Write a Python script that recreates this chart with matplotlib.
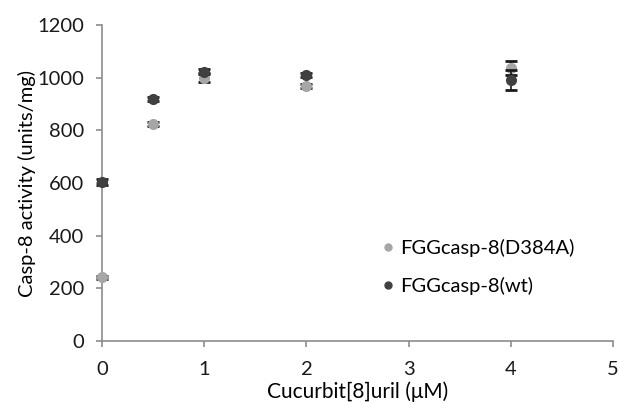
import matplotlib
matplotlib.use("Agg")
import matplotlib.pyplot as plt
from matplotlib.lines import Line2D

plt.rcParams['font.family'] = ['Lato', 'DejaVu Sans']

conc = [0, 0.5, 1, 2, 4]
d384a = [242, 824, 1000, 970, 1036]
d384a_err = [5, 8, 18, 8, 27]
wt = [604, 919, 1023, 1010, 991]
wt_err = [12, 8, 10, 8, 38]

labels = ["FGGcasp-8(D384A)", "FGGcasp-8(wt)"]
xticks = [0, 1, 2, 3, 4, 5]
yticks = [0, 200, 400, 600, 800, 1000, 1200]

fig = plt.figure(figsize=(6.19, 4.05), dpi=100)
ax = fig.add_axes([0.165, 0.158, 0.825, 0.78])

ax.errorbar(conc, d384a, yerr=d384a_err, fmt='o', color='#a6a6a6', ecolor='#1a1a1a',
            elinewidth=1.2, capsize=4, capthick=2, markersize=7, label=labels[0], zorder=3)
ax.errorbar(conc, wt, yerr=wt_err, fmt='o', color='#404040', ecolor='#1a1a1a',
            elinewidth=1.2, capsize=4, capthick=2, markersize=7, label=labels[1], zorder=4)

ax.set_xlim(0, 5)
ax.set_ylim(0, 1200)
ax.set_xticks(xticks)
ax.set_yticks(yticks)
for s in ['top', 'right']:
    ax.spines[s].set_visible(False)
for s in ['left', 'bottom']:
    ax.spines[s].set_color('#8c8c8c')
    ax.spines[s].set_linewidth(1.2)
ax.tick_params(axis='both', colors='#8c8c8c', labelcolor='#1a1a1a', labelsize=14.5,
               length=4.5, width=1.2, direction='out')
ax.tick_params(axis='y', pad=8.5)
ax.tick_params(axis='x', pad=10)
ax.set_xlabel("Cucurbit[8]uril (\u03bcM)", fontsize=15, labelpad=2)
ax.set_ylabel("Casp-8 activity (units/mg)", fontsize=14.5, labelpad=1)

h = [Line2D([], [], marker='o', linestyle='', color='#a6a6a6', markersize=5),
     Line2D([], [], marker='o', linestyle='', color='#404040', markersize=5)]
ax.legend(h, labels, loc='upper left', bbox_to_anchor=(0.505, 0.38), frameon=False,
          fontsize=14.5, handletextpad=0.1, labelspacing=1.0, handlelength=1.0)

for art in ax.collections + ax.lines:
    art.set_clip_on(False)

fig.savefig("out.png", dpi=100)
